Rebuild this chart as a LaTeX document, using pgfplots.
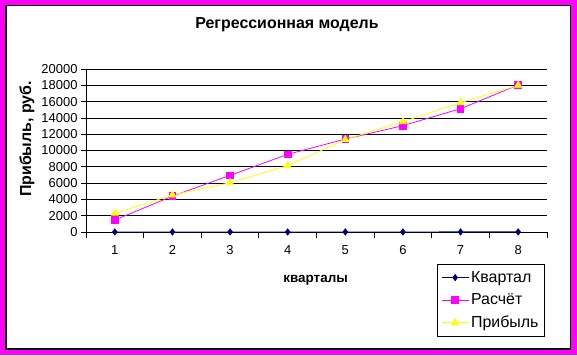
\documentclass[border=0pt]{standalone}
\usepackage{pgfplots}
\pgfplotsset{compat=1.18}
\usepackage{fontspec}
\setmainfont{Liberation Sans}
\definecolor{navy}{RGB}{0,0,128}
\definecolor{mag}{RGB}{255,0,255}
\definecolor{yel}{RGB}{255,255,0}
\begin{document}
\begin{tikzpicture}[x=1bp,y=1bp]
\fill[mag] (0,0) rectangle (577,355);
\filldraw[fill=white,draw=black,line width=1.5bp] (5.75,6) rectangle (570.5,349.25);
\begin{axis}[
  at={(86bp,123bp)}, anchor=south west,
  scale only axis, width=461bp, height=163bp,
  xmin=0.5, xmax=8.5, ymin=0, ymax=20000,
  axis x line*=bottom, axis y line*=left,
  xtick={1,...,8}, minor xtick={0.5,1.5,...,8.5},
  ytick={0,2000,...,20000},
  major x tick style={draw=none},
  minor tick length=6bp, major tick length=5bp,
  tick align=outside,
  ymajorgrids, grid style={black, line width=0.8bp},
  axis line style={black, line width=0.8bp},
  every tick/.style={black, line width=0.8bp},
  scaled y ticks=false,
  /pgf/number format/1000 sep={},
  /pgf/number format/assume math mode=true,
  tick label style={font=\fontsize{13}{15}\selectfont},
  xticklabel style={yshift=-5bp},
  every axis title shift=0pt,
  title={\textbf{Регрессионная модель}},
  title style={at={(axis description cs:0.436,1.27)}, anchor=center, font=\fontsize{16}{18}\selectfont},
  xlabel={\textbf{кварталы}},
  xlabel style={at={(axis description cs:0.498,-0.295)}, anchor=center, font=\fontsize{13.5}{15}\selectfont},
  ylabel={\textbf{Прибыль, руб.}},
  ylabel style={at={(axis description cs:-0.128,0.571)}, anchor=center, font=\fontsize{16}{18}\selectfont},
  legend style={at={(axis description cs:0.761,-0.196)}, anchor=north west,
    draw=black, line width=0.8bp, font=\fontsize{16}{18}\selectfont,
    row sep=6bp, inner xsep=4bp, inner ysep=5bp},
  legend image code/.code={\draw[mark repeat=2,mark phase=2] plot coordinates {(0bp,0bp) (13.5bp,0bp) (27bp,0bp)};},
  legend cell align=left,
  clip=false,
]
\addplot[navy, line width=0.9bp, mark=diamond*, mark size=3bp, mark options={fill=navy}]
  coordinates {(1,1) (2,2) (3,3) (4,4) (5,5) (6,6) (7,7) (8,8)};
\addlegendentry{Квартал}
\addplot[mag, line width=0.8bp, mark=square*, mark size=3.3bp, mark options={fill=mag}]
  coordinates {(1,1470) (2,4400) (3,6950) (4,9530) (5,11400) (6,13050) (7,15130) (8,18040)};
\addlegendentry{Расчёт}
\addplot[yel, line width=0.8bp, mark=triangle*, mark size=4bp, mark options={fill=yel}]
  coordinates {(1,2290) (2,4540) (3,6050) (4,8140) (5,11350) (6,13530) (7,15870) (8,18000)};
\addlegendentry{Прибыль}
\end{axis}
\pgfresetboundingbox
\useasboundingbox (0,0) rectangle (577,355);
\end{tikzpicture}
\end{document}
